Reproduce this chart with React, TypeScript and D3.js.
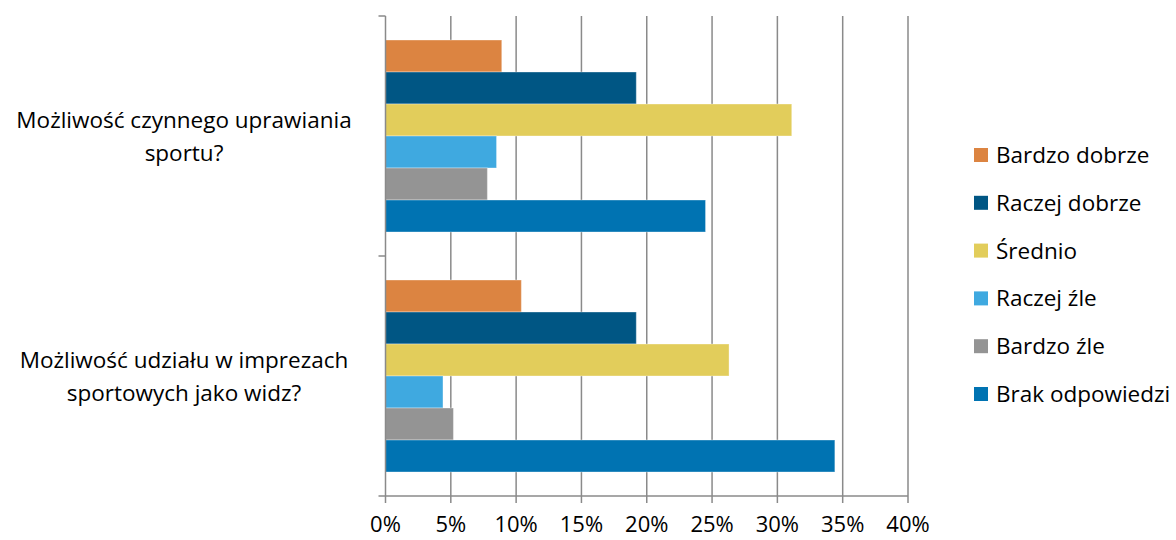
import React from "react";
import * as d3 from "d3";

const categories = [
  ["Możliwość czynnego uprawiania", "sportu?"],
  ["Możliwość udziału w imprezach", "sportowych jako widz?"],
];
const seriesNames = ["Bardzo dobrze", "Raczej dobrze", "Średnio", "Raczej źle", "Bardzo źle", "Brak odpowiedzi"];
const seriesColors = ["#dc8441", "#005684", "#e2cd5b", "#3fa9e0", "#949494", "#0073b2"];
// values in %, rows = categories, columns = series
const valuesCat1 = [8.9, 19.2, 31.1, 8.5, 7.8, 24.5];
const valuesCat2 = [10.4, 19.2, 26.3, 4.4, 5.2, 34.4];
const xTicks = [0, 5, 10, 15, 20, 25, 30, 35, 40];

const FONT = "'Open Sans', sans-serif";
const FS = 22.5;

const App: React.FC = () => {
  const width = 1176;
  const height = 540;
  const margin = { top: 16, left: 385.5, right: 268, bottom: 44 };
  const plotW = width - margin.left - margin.right;
  const plotH = height - margin.top - margin.bottom;

  const values = [valuesCat1, valuesCat2];

  const x = d3.scaleLinear().domain([0, 40]).range([0, plotW]);
  const y0 = d3
    .scaleBand<number>()
    .domain(categories.map((_, i) => i))
    .range([0, plotH]);
  const y1 = d3
    .scaleBand<number>()
    .domain(seriesNames.map((_, i) => i))
    .range([y0.bandwidth() * 0.1, y0.bandwidth() * 0.9]);

  return (
    <svg width={width} height={height} style={{ position: "absolute", left: 0, top: 0 }} fontFamily={FONT}>
      <rect width={width} height={height} fill="#fff" />
      <g transform={`translate(${margin.left},${margin.top})`}>
        {xTicks.map((t) => (
          <g key={t}>
            {t > 0 && <line x1={x(t)} x2={x(t)} y1={0} y2={plotH} stroke="#8a8a8a" strokeWidth={1.5} />}
            <line x1={x(t)} x2={x(t)} y1={plotH} y2={plotH + 7} stroke="#8a8a8a" strokeWidth={1.5} />
            <text x={x(t)} y={plotH + 36} textAnchor="middle" fontSize={22} fill="#000">
              {t}%
            </text>
          </g>
        ))}
        {values.map((vals, ci) => (
          <g key={ci} transform={`translate(0,${y0(ci)})`}>
            {vals.map((v, si) => (
              <rect
                key={si}
                x={0}
                y={y1(si)}
                width={x(v)}
                height={y1.bandwidth()}
                fill={seriesColors[si]}
                stroke="#ffffff"
                strokeOpacity={0.35}
                strokeWidth={1}
              />
            ))}
          </g>
        ))}
        <line x1={0} x2={0} y1={0} y2={plotH} stroke="#8a8a8a" strokeWidth={1.5} />
        <line x1={0} x2={plotW} y1={plotH} y2={plotH} stroke="#8a8a8a" strokeWidth={1.5} />
        {[0, 1, 2].map((i) => (
          <line key={i} x1={-7} x2={0} y1={(plotH / 2) * i} y2={(plotH / 2) * i} stroke="#8a8a8a" strokeWidth={1.5} />
        ))}
        {categories.map((lines, ci) => {
          const cy = (y0(ci) as number) + y0.bandwidth() / 2;
          return (
            <text key={ci} textAnchor="middle" fontSize={FS} fill="#000">
              {lines.map((l, li) => (
                <tspan key={li} x={184 - margin.left} y={cy + (li - (lines.length - 1) / 2) * 33 + 8}>
                  {l}
                </tspan>
              ))}
            </text>
          );
        })}
      </g>
      <g transform="translate(974,155)">
        {seriesNames.map((n, i) => (
          <g key={n} transform={`translate(0,${i * 47.8})`}>
            <rect x={0} y={-7} width={14} height={14} fill={seriesColors[i]} />
            <text x={22} y={8} fontSize={FS} fill="#000">
              {n}
            </text>
          </g>
        ))}
      </g>
    </svg>
  );
};

export default App;
